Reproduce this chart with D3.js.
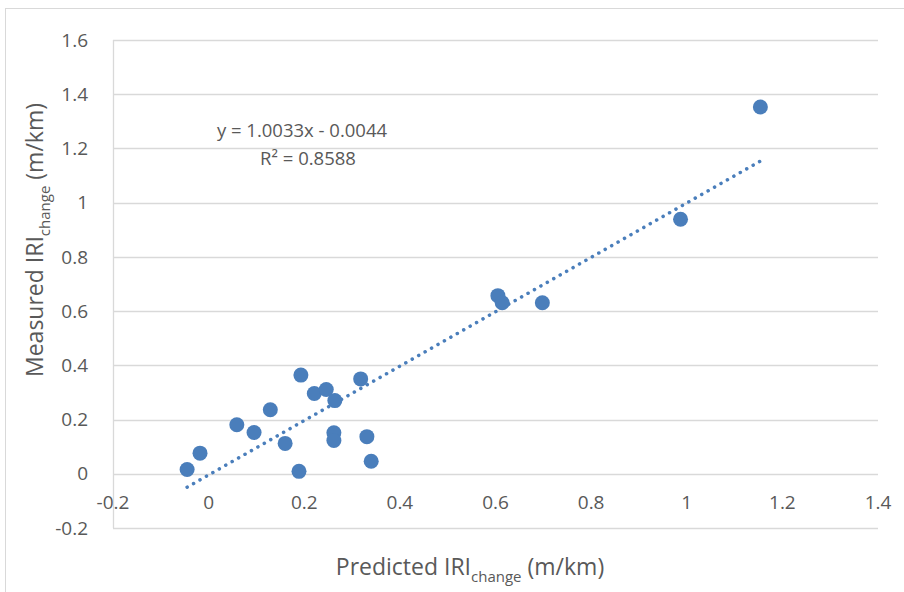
<!DOCTYPE html>
<html>
<head>
<meta charset="utf-8">
<script src="https://cdn.jsdelivr.net/npm/d3@7"></script>
<style>
  body { margin: 0; background: #fff; }
  svg text { font-family: 'Open Sans', 'Liberation Sans', sans-serif; fill: #595959; }
</style>
</head>
<body>
<div id="chart"></div>
<script>
(function(d3) {
    'use strict';

    // predicted vs measured IRI change (m/km)
    var predicted = [-0.045, -0.018, 0.059, 0.095, 0.129, 0.160, 0.189, 0.193, 0.221, 0.246, 0.264,
      0.262, 0.262, 0.318, 0.331, 0.340, 0.605, 0.614, 0.698, 0.987, 1.154];
    var measured = [0.016, 0.076, 0.181, 0.152, 0.236, 0.112, 0.009, 0.364, 0.296, 0.311, 0.270,
      0.151, 0.123, 0.350, 0.137, 0.046, 0.657, 0.631, 0.631, 0.939, 1.353];
    var xTicks = [-0.2, 0, 0.2, 0.4, 0.6, 0.8, 1, 1.2, 1.4];
    var yTicks = [-0.2, 0, 0.2, 0.4, 0.6, 0.8, 1, 1.2, 1.4, 1.6];
    var slope = 1.0033;
    var intercept = -0.0044;
    var r2 = 0.8588;

    var width = 904;
    var height = 592;
    var blue = '#4a7ebb';
    var grid = '#d9d9d9';

    var svg = d3.select('#chart')
      .append('svg')
      .attr('width', width)
      .attr('height', height);

    // chart border
    svg.append('rect')
      .attr('x', 5.5)
      .attr('y', 8.5)
      .attr('width', width)
      .attr('height', height)
      .attr('fill', 'none')
      .attr('stroke', grid);

    var x = d3.scaleLinear().domain([-0.2, 1.4]).range([113, 878]);
    var y = d3.scaleLinear().domain([-0.2, 1.6]).range([528, 40]);

    var fmt = function(d) { return String(+d.toFixed(1)); };

    // horizontal gridlines
    svg.append('g')
      .selectAll('line')
      .data(yTicks)
      .enter()
      .append('line')
      .attr('x1', x(-0.2))
      .attr('x2', x(1.4))
      .attr('y1', function(d) { return Math.round(y(d)) + 0.5; })
      .attr('y2', function(d) { return Math.round(y(d)) + 0.5; })
      .attr('stroke', grid)
      .attr('stroke-width', 1.3);

    // vertical axis line
    svg.append('line')
      .attr('x1', Math.round(x(-0.2)) + 0.5)
      .attr('x2', Math.round(x(-0.2)) + 0.5)
      .attr('y1', y(1.6))
      .attr('y2', y(-0.2))
      .attr('stroke', grid)
      .attr('stroke-width', 1.3);

    // y tick labels
    svg.append('g')
      .selectAll('text')
      .data(yTicks)
      .enter()
      .append('text')
      .attr('x', 88)
      .attr('y', function(d) { return y(d); })
      .attr('dy', '0.35em')
      .attr('text-anchor', 'end')
      .style('font-size', '19px')
      .text(fmt);

    // x tick labels, sitting under the zero line
    svg.append('g')
      .selectAll('text')
      .data(xTicks)
      .enter()
      .append('text')
      .attr('x', function(d) { return x(d); })
      .attr('y', y(0) + 29)
      .attr('dy', '0.35em')
      .attr('text-anchor', 'middle')
      .style('font-size', '19px')
      .text(fmt);

    // trendline
    var x0 = d3.min(predicted);
    var x1 = d3.max(predicted);
    svg.append('line')
      .attr('x1', x(x0))
      .attr('y1', y(slope * x0 + intercept))
      .attr('x2', x(x1))
      .attr('y2', y(slope * x1 + intercept))
      .attr('stroke', blue)
      .attr('stroke-width', 3.5)
      .attr('stroke-linecap', 'round')
      .attr('stroke-dasharray', '0.1,7.3');

    // points
    svg.append('g')
      .selectAll('circle')
      .data(predicted)
      .enter()
      .append('circle')
      .attr('cx', function(d) { return x(d); })
      .attr('cy', function(d, i) { return y(measured[i]); })
      .attr('r', 7.5)
      .attr('fill', blue);

    // equation label
    svg.append('text')
      .attr('x', 302)
      .attr('y', 137)
      .attr('text-anchor', 'middle')
      .style('font-size', '18.5px')
      .text('y = ' + slope.toFixed(4) + 'x - ' + Math.abs(intercept).toFixed(4));

    svg.append('text')
      .attr('x', 308)
      .attr('y', 165)
      .attr('text-anchor', 'middle')
      .style('font-size', '18.5px')
      .text('R² = ' + r2.toFixed(4));

    // axis titles
    var xt = svg.append('text')
      .attr('x', 470)
      .attr('y', 575)
      .attr('text-anchor', 'middle')
      .style('font-size', '23px');
    xt.append('tspan').text('Predicted IRI');
    xt.append('tspan').attr('dy', 7).style('font-size', '15px').text('change');
    xt.append('tspan').attr('dy', -7).text(' (m/km)');

    var yt = svg.append('text')
      .attr('transform', 'translate(43,' + 240 + ') rotate(-90)')
      .attr('text-anchor', 'middle')
      .style('font-size', '23px');
    yt.append('tspan').text('Measured IRI');
    yt.append('tspan').attr('dy', 7).style('font-size', '15px').text('change');
    yt.append('tspan').attr('dy', -7).text(' (m/km)');

})(window.d3);
</script>
</body>
</html>
